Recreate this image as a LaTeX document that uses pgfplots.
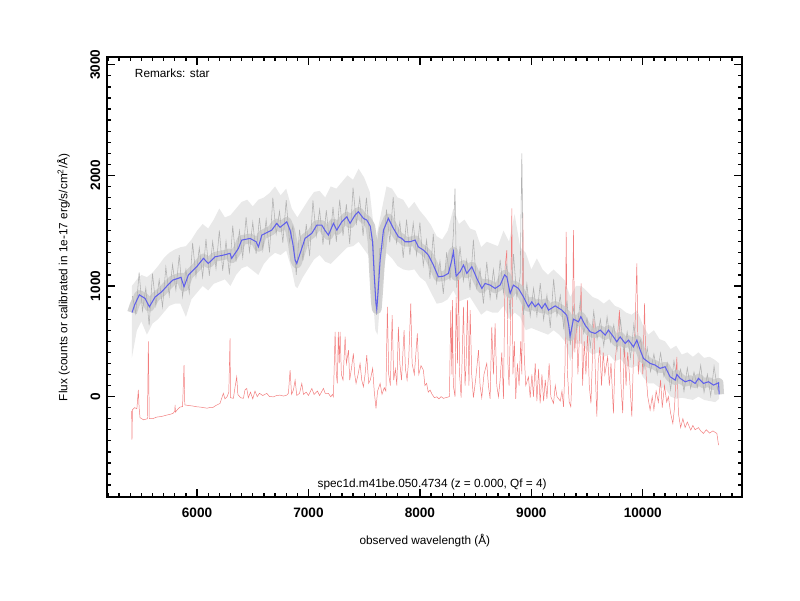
\documentclass[border=0pt]{standalone}
\usepackage{pgfplots}
\pgfplotsset{compat=1.18}
\usepackage{pgfplotstable}
\usepgfplotslibrary{fillbetween}
\usepackage{fontspec}
\setmainfont{Liberation Sans}
\definecolor{bl}{RGB}{95,95,235}
\definecolor{rd}{RGB}{242,125,125}
\definecolor{gcore}{RGB}{200,200,200}
\definecolor{gout}{RGB}{226,226,226}
\definecolor{gline}{RGB}{178,178,178}

\pgfplotstableread{
x y
5417 760
5440 830
5482 920
5533 888
5572 812
5623 900
5683 948
5730 1000
5782 1053
5856 1078
5883 993
5922 1099
5997 1174
6057 1250
6101 1204
6162 1264
6236 1279
6296 1295
6311 1250
6371 1340
6401 1415
6476 1430
6530 1400
6551 1354
6581 1460
6670 1505
6715 1566
6745 1530
6805 1580
6835 1505
6860 1380
6880 1234
6895 1204
6940 1340
6969 1430
7030 1476
7075 1551
7119 1551
7150 1500
7179 1460
7224 1566
7254 1505
7299 1580
7344 1626
7373 1566
7418 1641
7448 1671
7493 1611
7523 1596
7555 1540
7575 1400
7590 1100
7605 850
7613 790
7625 950
7643 1234
7673 1505
7717 1611
7762 1521
7807 1445
7837 1430
7867 1400
7912 1400
7957 1415
7986 1354
8031 1325
8076 1279
8121 1189
8166 1083
8211 1089
8256 1114
8286 1234
8301 1310
8325 1090
8361 1129
8391 1189
8421 1114
8466 1174
8511 1069
8556 978
8585 1023
8630 1008
8675 978
8720 1008
8760 1100
8780 1083
8810 933
8839 1008
8884 978
8929 902
8974 812
9004 857
9034 812
9064 842
9094 797
9124 842
9154 782
9214 820
9274 782
9318 735
9335 650
9348 545
9378 700
9423 676
9444 722
9483 646
9528 586
9573 571
9618 601
9663 556
9692 601
9737 541
9767 495
9797 540
9842 481
9872 511
9916 450
9947 511
9977 420
10007 345
10066 300
10111 285
10156 255
10201 270
10246 179
10291 149
10306 200
10336 165
10381 134
10425 149
10470 119
10500 165
10545 119
10590 134
10635 104
10680 125
10686 20
}\bluetab

\pgfplotstableread{
x y
5420 909
5450 751
5480 1122
5510 774
5540 983
5570 644
5600 1112
5630 824
5660 1056
5690 811
5720 1170
5750 912
5780 1194
5810 963
5840 1279
5870 904
5900 1148
5930 937
5960 1390
5990 1085
6020 1345
6050 1080
6080 1425
6110 1092
6140 1402
6170 1156
6200 1502
6230 1138
6260 1405
6290 1103
6320 1545
6350 1220
6380 1500
6410 1257
6440 1623
6470 1309
6500 1577
6530 1290
6560 1615
6590 1325
6620 1600
6650 1305
6680 1799
6710 1470
6740 1675
6770 1391
6800 1776
6830 1395
6860 1540
6890 1100
6920 1510
6950 1230
6980 1560
7010 1270
7040 1773
7070 1453
7100 1691
7130 1375
7160 1685
7190 1370
7220 1715
7250 1400
7280 1780
7310 1455
7340 1740
7370 1380
7400 1890
7430 1565
7460 1795
7490 1454
7520 1798
7550 1430
7580 1400
7610 740
7640 1340
7670 1340
7700 1690
7730 1395
7760 1805
7790 1390
7820 1578
7850 1255
7880 1600
7910 1280
7940 1570
7970 1280
8000 1575
8030 1185
8060 1415
8090 1065
8120 1470
8150 1030
8180 1225
8210 929
8240 1305
8270 1050
8300 1460
8315 1880
8330 985
8360 1358
8390 1047
8420 1235
8450 963
8480 1420
8510 980
8540 1150
8570 840
8600 1218
8630 888
8660 1148
8690 878
8720 1238
8750 937
8780 1203
8810 743
8840 1287
8870 897
8900 1090
8915 2200
8930 740
8960 1020
8990 727
9020 979
9050 729
9080 1025
9110 696
9140 918
9170 621
9200 1063
9230 729
9260 914
9290 623
9320 868
9350 466
9380 812
9410 606
9440 873
9470 573
9500 707
9530 452
9560 771
9590 520
9620 698
9650 457
9680 722
9710 493
9740 649
9770 421
9800 697
9830 399
9860 584
9890 352
9920 654
9950 439
9980 511
10010 247
10040 440
10070 227
10100 385
10130 206
10160 394
10190 182
10220 304
10250 62
10280 324
10310 141
10340 246
10370 46
10400 260
10430 74
10460 222
10490 84
10520 283
10550 37
10580 202
10610 6
10640 274
10670 66
10685 125
}\greytab

\pgfplotstableread{
x y
5415 1000
5460 1060
5500 1100
5550 1080
5600 1120
5650 1180
5700 1250
5750 1300
5800 1330
5850 1350
5900 1360
5950 1420
6000 1500
6050 1560
6100 1520
6150 1600
6200 1700
6250 1620
6300 1640
6350 1700
6400 1760
6450 1780
6500 1720
6550 1780
6600 1800
6650 1840
6700 1900
6750 1820
6800 1880
6850 1700
6900 1620
6950 1700
7000 1780
7050 1850
7100 1860
7150 1800
7200 1900
7250 1880
7300 1940
7350 2000
7400 1960
7450 2060
7500 1980
7550 1850
7600 1400
7650 1650
7700 1900
7750 1880
7800 1800
7850 1780
7900 1700
7950 1760
8000 1680
8050 1620
8100 1550
8150 1450
8200 1420
8250 1500
8300 1700
8350 1560
8400 1600
8450 1520
8500 1500
8550 1350
8600 1400
8650 1380
8700 1360
8750 1500
8800 1400
8850 1650
8900 1350
8950 1300
9000 1150
9050 1250
9100 1150
9150 1100
9200 1150
9250 1100
9300 1050
9350 900
9400 1000
9450 1000
9500 950
9550 900
9600 880
9650 840
9700 880
9750 820
9800 800
9850 760
9900 740
9950 780
10000 650
10050 560
10100 600
10150 520
10200 500
10250 430
10300 460
10350 380
10400 400
10450 360
10500 400
10550 350
10600 360
10650 330
10685 300
}\uppertab

\pgfplotstableread{
x y
5415 350
5460 600
5500 680
5550 560
5600 660
5650 700
5700 760
5750 820
5800 840
5850 840
5900 720
5950 880
6000 940
6050 1000
6100 960
6150 1020
6200 1040
6250 1060
6300 1000
6350 1100
6400 1160
6450 1180
6500 1140
6550 1100
6600 1200
6650 1260
6700 1300
6750 1280
6800 1320
6850 1150
6880 1000
6900 980
6950 1080
7000 1160
7050 1240
7100 1280
7150 1220
7200 1200
7250 1250
7300 1300
7350 1350
7400 1360
7450 1400
7500 1330
7550 1260
7600 600
7620 560
7650 950
7700 1300
7750 1250
7800 1180
7850 1150
7900 1140
7950 1150
8000 1080
8050 1040
8100 940
8150 840
8200 850
8250 880
8300 960
8350 860
8400 880
8450 900
8500 820
8550 740
8600 780
8650 760
8700 760
8750 820
8800 700
8850 760
8900 720
8950 600
9000 620
9050 600
9100 580
9150 560
9200 600
9250 560
9300 500
9350 320
9400 480
9450 480
9500 420
9550 380
9600 400
9650 360
9700 380
9750 320
9800 340
9850 280
9900 260
9950 280
10000 180
10050 120
10100 120
10150 80
10200 80
10250 0
10300 -20
10350 -10
10400 -20
10450 -30
10500 0
10550 -30
10600 -40
10650 -50
10685 -20
}\lowertab

\pgfplotstableread{
x y
5413 -130
5416 -390
5420 -120
5440 -100
5460 -110
5473 60
5480 -100
5488 -190
5520 -210
5555 -200
5563 500
5571 -200
5600 -200
5640 -185
5680 -180
5728 -167
5760 -160
5787 -150
5800 -130
5803 -75
5806 -140
5830 -110
5847 -95
5870 -90
5883 285
5890 -75
5920 -80
5960 -85
5997 -92
6030 -95
6060 -100
6090 -105
6117 -98
6140 -100
6170 -80
6206 -62
6236 30
6250 -20
6270 0
6285 40
6296 526
6300 -10
6326 -16
6340 80
6356 179
6366 20
6390 -10
6416 -16
6430 60
6446 74
6460 -10
6480 40
6500 -20
6520 50
6540 0
6560 30
6590 10
6626 29
6650 0
6685 -2
6715 10
6745 13
6775 5
6805 13
6820 30
6835 240
6848 20
6865 60
6880 149
6895 10
6920 30
6940 119
6955 20
6980 40
7000 10
7030 74
7050 20
7080 50
7100 10
7134 74
7150 30
7179 29
7200 -2
7215 20
7224 -2
7239 586
7250 200
7259 119
7268 586
7276 300
7284 586
7295 200
7310 150
7329 541
7340 300
7359 420
7370 150
7385 250
7403 390
7415 200
7427 119
7445 200
7463 300
7478 150
7493 89
7508 200
7523 375
7540 120
7555 150
7576 255
7590 50
7606 -107
7620 50
7643 119
7660 20
7680 80
7695 50
7708 812
7720 200
7735 100
7751 737
7765 150
7780 250
7793 100
7807 631
7820 300
7835 150
7858 601
7870 250
7885 150
7900 350
7918 842
7930 300
7950 200
7977 571
7990 200
8010 280
8031 240
8045 100
8060 120
8075 40
8091 59
8110 20
8130 -10
8151 -2
8170 -20
8190 0
8211 -16
8230 -10
8250 -5
8265 0
8277 782
8287 200
8292 872
8300 100
8315 0
8325 902
8338 300
8346 1234
8356 200
8370 -10
8391 812
8405 100
8415 300
8427 872
8440 100
8451 782
8465 200
8480 -10
8500 150
8526 420
8540 100
8555 -10
8575 200
8600 300
8615 100
8630 -20
8645 631
8660 200
8675 661
8690 100
8705 -2
8720 150
8735 400
8750 -20
8765 1174
8780 1325
8790 300
8800 100
8812 600
8825 1701
8835 200
8848 500
8860 -20
8875 300
8890 100
8905 500
8915 200
8924 1656
8935 400
8950 100
8974 179
8990 -10
9005 200
9019 -2
9035 300
9050 -40
9065 250
9079 -62
9095 200
9110 -40
9125 150
9140 -20
9160 300
9175 0
9199 -62
9215 100
9230 0
9260 -40
9275 50
9289 -92
9303 300
9313 1490
9325 200
9340 -50
9354 -92
9366 200
9378 1505
9390 400
9405 700
9418 200
9430 500
9447 1024
9460 100
9475 500
9490 200
9505 600
9520 100
9535 -62
9550 400
9562 700
9575 200
9588 -182
9600 300
9615 450
9630 100
9645 400
9660 200
9685 360
9700 100
9715 300
9737 -152
9750 300
9770 500
9791 782
9805 100
9820 -150
9835 500
9850 100
9865 400
9880 200
9902 -182
9915 300
9930 600
9947 1204
9960 200
9975 400
9990 500
10000 200
10016 842
10030 200
10045 0
10066 -122
10085 0
10100 -120
10120 50
10140 -50
10160 150
10175 -100
10195 100
10215 -50
10230 0
10250 -150
10270 -243
10285 -100
10306 360
10320 -150
10340 -280
10360 -200
10380 -280
10400 -230
10431 -303
10450 -260
10470 -300
10500 -280
10520 -310
10545 -333
10570 -300
10600 -330
10630 -310
10665 -333
10680 -438
}\redtab

\begin{document}
\begin{tikzpicture}
\begin{axis}[
  at={(77.3pt,73.9pt)}, anchor=south west,
  scale only axis, width=457.2pt, height=316.8pt,
  xmin=5195, xmax=10894, ymin=-911, ymax=3067,
  xtick={6000,7000,8000,9000,10000},
  minor xtick={5200,5300,...,10800},
  ytick={0,1000,2000,3000},
  minor ytick={-900,-800,...,3000},
  tick align=inside,
  xtick pos=both, ytick pos=both,
  xticklabel pos=lower, yticklabel pos=left,
  major tick length=5.8pt, minor tick length=2.9pt,
  every tick/.style={black, line width=0.9pt},
  axis line style={line width=1.5pt},
  scaled ticks=false,
  xticklabel style={/pgf/number format/1000 sep={}, font=\bfseries\fontsize{9.8}{11}\selectfont, yshift=-4pt},
  yticklabel style={/pgf/number format/1000 sep={}, font=\bfseries\fontsize{9.8}{11}\selectfont, rotate=90, anchor=south, inner sep=5pt},
  /pgf/number format/assume math mode=true,
  xlabel={observed wavelength (Å)},
  ylabel={Flux (counts or calibrated in 1e-17 erg/s/cm\textsuperscript{2}/Å)},
  label style={font=\fontsize{8.5}{10}\selectfont},
  xlabel style={at={(axis description cs:0.5,-0.0977)}, anchor=center},
  ylabel style={at={(axis description cs:-0.0693,0.5)}, anchor=center},
]
\addplot[rd, line width=0.35pt, forget plot] table[x=x,y=y] {\redtab};
\addplot[draw=none, name path=U, forget plot] table[x=x,y=y] {\uppertab};
\addplot[draw=none, name path=L, forget plot] table[x=x,y=y] {\lowertab};
\addplot[gout, fill opacity=0.75, forget plot] fill between[of=U and L];
\addplot[gcore, line width=7pt, line join=round, opacity=0.8, forget plot] table[x=x,y=y] {\bluetab};
\addplot[gline, line width=0.4pt, forget plot] table[x=x,y=y] {\greytab};
\addplot[bl, line width=0.75pt, forget plot] table[x=x,y=y] {\bluetab};
\node[anchor=west, font=\fontsize{8.5}{10}\selectfont] at (axis cs:5399,2925) {Remarks: star};
\node[anchor=center, font=\fontsize{8.5}{10}\selectfont] at (axis cs:8110,-791) {spec1d.m41be.050.4734 (z = 0.000, Qf = 4)};
\end{axis}
\pgfresetboundingbox
\path[use as bounding box] (0,0) rectangle (576pt,432pt);
\end{tikzpicture}
\end{document}
